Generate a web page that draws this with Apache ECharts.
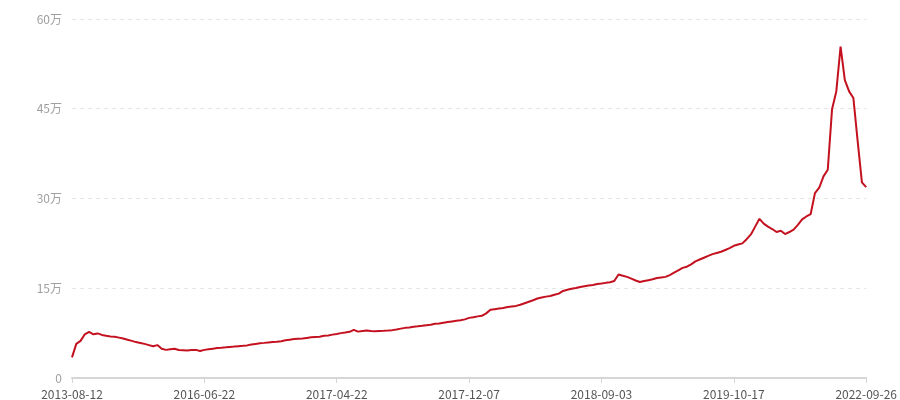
<!DOCTYPE html>
<html><head><meta charset="utf-8">
<script src="https://cdn.jsdelivr.net/npm/echarts@6/dist/echarts.min.js"></script>
<style>html,body{margin:0;padding:0;background:#fff}#c{width:900px;height:400px}</style>
</head><body><div id="c"></div>
<script>
// Tick-label dates (every 31st category)
var tickDates = ['2013-08-12','2016-06-22','2017-04-22','2017-12-07','2018-09-03','2019-10-17','2022-09-26'];
var step = 31;
// Values in 万
var values = [
3.45,5.7,6.2,7.3,7.7,7.3,7.45,7.2,7.05,6.95,
6.9,6.75,6.6,6.4,6.2,6.0,5.85,5.7,5.5,5.3,
5.5,4.9,4.7,4.8,4.9,4.67,4.65,4.6,4.67,4.7,
4.5,4.7,4.8,4.9,5.0,5.05,5.12,5.2,5.25,5.32,
5.38,5.45,5.6,5.7,5.8,5.87,5.95,6.0,6.05,6.15,
6.3,6.4,6.5,6.55,6.6,6.7,6.8,6.85,6.9,7.05,
7.12,7.25,7.35,7.5,7.6,7.72,8.05,7.75,7.85,7.95,
7.85,7.8,7.85,7.88,7.92,8.0,8.12,8.25,8.38,8.45,
8.55,8.63,8.72,8.83,8.9,9.05,9.1,9.25,9.35,9.45,
9.55,9.65,9.8,10.05,10.15,10.3,10.4,10.8,11.4,11.5,
11.6,11.7,11.85,11.95,12.05,12.25,12.5,12.75,13.0,13.28,
13.45,13.6,13.7,13.9,14.1,14.55,14.75,14.9,15.05,15.22,
15.35,15.45,15.55,15.7,15.78,15.9,16.0,16.2,17.3,17.1,
16.9,16.6,16.3,16.05,16.2,16.35,16.5,16.7,16.8,16.9,
17.2,17.6,18.0,18.4,18.6,19.0,19.5,19.8,20.1,20.4,
20.7,20.9,21.1,21.4,21.7,22.1,22.3,22.5,23.2,24.0,
25.3,26.6,25.8,25.3,24.9,24.4,24.6,24.06,24.4,24.8,
25.6,26.5,27.0,27.4,30.9,31.8,33.7,34.8,44.9,47.9,
55.4,49.8,47.9,46.8,39.6,32.7,31.9
];
var yTicks = [0, 15, 30, 45, 60];

// Build category list: known tick dates, with intermediate dates spread between them
function pad(n){return n<10?'0'+n:''+n;}
var categories = [];
for (var s = 0; s < tickDates.length - 1; s++) {
  var a = new Date(tickDates[s] + 'T00:00:00Z').getTime();
  var b = new Date(tickDates[s+1] + 'T00:00:00Z').getTime();
  for (var k = 0; k < step; k++) {
    var d = new Date(a + (b - a) * k / step);
    categories.push(d.getUTCFullYear() + '-' + pad(d.getUTCMonth()+1) + '-' + pad(d.getUTCDate()));
  }
}
categories.push(tickDates[tickDates.length-1]);

var chart = echarts.init(document.getElementById('c'), null, {renderer:'canvas'});
chart.setOption({
  animation: false,
  grid: {left: 72, right: 32, top: 19, bottom: 21, containLabel: false},
  xAxis: {
    type: 'category',
    data: categories,
    boundaryGap: false,
    axisLine: {lineStyle: {color: '#d6d6d6', width: 2}},
    axisTick: {show: true, interval: step - 1, length: 5, lineStyle: {color: '#d6d6d6'}},
    axisLabel: {interval: step - 1, color: '#555', fontSize: 12, margin: 10,
      fontFamily: '"Noto Sans CJK SC", "Noto Sans", sans-serif'},
    splitLine: {show: false}
  },
  yAxis: {
    type: 'value',
    min: yTicks[0], max: yTicks[yTicks.length-1], interval: 15,
    axisLine: {show: false},
    axisTick: {show: false},
    axisLabel: {color: '#a0a0a0', fontSize: 12, margin: 10,
      fontFamily: '"Noto Sans CJK SC", "Noto Sans", sans-serif',
      formatter: function(v){ return v === 0 ? '0' : v + '万'; }},
    splitLine: {lineStyle: {color: '#e6e6e6', type: [4, 4], width: 1}}
  },
  series: [{
    type: 'line',
    data: values,
    showSymbol: false,
    symbol: 'none',
    lineStyle: {color: '#c4111f', width: 2},
    itemStyle: {color: '#c4111f'}
  }]
});
</script></body></html>
